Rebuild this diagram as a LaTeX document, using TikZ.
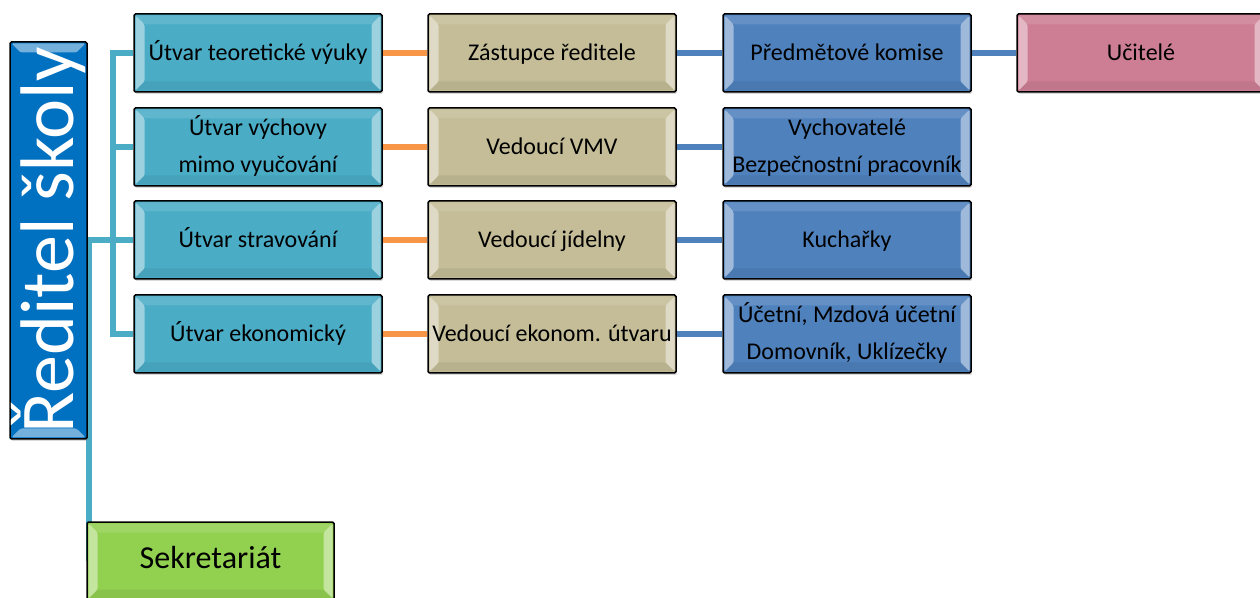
\documentclass[tikz,border=0pt]{standalone}
\usepackage{fontspec}
\setmainfont{Carlito}
\usetikzlibrary{shadows,backgrounds}
\definecolor{aquabox}{RGB}{75,172,198}
\definecolor{tanbox}{RGB}{196,189,151}
\definecolor{bluebox}{RGB}{79,129,189}
\definecolor{pinkbox}{RGB}{205,126,148}
\definecolor{greenbox}{RGB}{146,208,80}
\definecolor{dirbox}{RGB}{0,112,192}
\definecolor{orangeline}{RGB}{247,150,70}
\tikzset{
  bevel/.style={path picture={
    \fill[white,opacity=.45] ([shift={(1.5pt,-1.5pt)}]path picture bounding box.north west) -- ++(9pt,-9pt)
      -- ([shift={(10.5pt,10.5pt)}]path picture bounding box.south west) -- ++(-9pt,-9pt) -- cycle;
    \fill[white,opacity=.45] ([shift={(-1.5pt,-1.5pt)}]path picture bounding box.north east) -- ++(-9pt,-9pt)
      -- ([shift={(-10.5pt,10.5pt)}]path picture bounding box.south east) -- ++(9pt,-9pt) -- cycle;
    \fill[white,opacity=.12] ([shift={(1.5pt,-1.5pt)}]path picture bounding box.north west) -- ++(9pt,-9pt)
      -- ([shift={(-10.5pt,-10.5pt)}]path picture bounding box.north east) -- ++(9pt,9pt) -- cycle;
    \fill[black,opacity=.06] ([shift={(1.5pt,1.5pt)}]path picture bounding box.south west) -- ++(9pt,9pt)
      -- ([shift={(-10.5pt,10.5pt)}]path picture bounding box.south east) -- ++(9pt,-9pt) -- cycle;
  }},
  bevelv/.style={path picture={
    \fill[white,opacity=.45] ([shift={(1.5pt,-1.5pt)}]path picture bounding box.north west) -- ++(9pt,-9pt)
      -- ([shift={(-10.5pt,-10.5pt)}]path picture bounding box.north east) -- ++(9pt,9pt) -- cycle;
    \fill[white,opacity=.45] ([shift={(1.5pt,1.5pt)}]path picture bounding box.south west) -- ++(9pt,9pt)
      -- ([shift={(-10.5pt,10.5pt)}]path picture bounding box.south east) -- ++(9pt,-9pt) -- cycle;
  }},
  box/.style={draw=black, line width=1.5pt, rounded corners=1.5pt, minimum width=248pt,
    minimum height=78pt, inner sep=0pt, align=center, text=black,
    font=\fontsize{24}{37}\selectfont, bevel, execute at begin node=\strut,
    drop shadow={opacity=.3,shadow xshift=1pt,shadow yshift=-2pt}},
  aqualine/.style={draw=aquabox, line width=5.5pt},
  orangelink/.style={draw=orangeline, line width=5.5pt},
  bluelink/.style={draw=bluebox, line width=5.5pt}
}
\begin{document}
\begin{tikzpicture}[x=1pt,y=1pt]
\useasboundingbox (0,0) rectangle (1260,597);

%%Director
\node[box, bevelv, fill=dirbox, minimum width=77pt, minimum height=397pt] (dir) at (48.5,356.5) {};
\node[rotate=90, text=white, font=\fontsize{76}{80}\selectfont] (dirtext) at (dir.center) {Ředitel školy};

%%Departments
\node[box, fill=aquabox] (u1) at (258,544) {Útvar teoretické výuky};
\node[box, fill=aquabox] (u2) at (258,450) {\strut Útvar výchovy\\mimo vyučování};
\node[box, fill=aquabox] (u3) at (258,357) {Útvar stravování};
\node[box, fill=aquabox] (u4) at (258,263) {Útvar ekonomický};

%%Heads
\node[box, fill=tanbox] (v1) at (552,544) {Zástupce ředitele};
\node[box, fill=tanbox] (v2) at (552,450) {Vedoucí VMV};
\node[box, fill=tanbox] (v3) at (552,357) {Vedoucí jídelny};
\node[box, fill=tanbox] (v4) at (552,263) {Vedoucí ekonom. útvaru};

%%Staff
\node[box, fill=bluebox] (w1) at (847,544) {Předmětové komise};
\node[box, fill=bluebox] (w2) at (847,450) {\strut Vychovatelé\\Bezpečnostní pracovník};
\node[box, fill=bluebox] (w3) at (847,357) {Kuchařky};
\node[box, fill=bluebox] (w4) at (847,263) {\strut Účetní, Mzdová účetní\\Domovník, Uklízečky};
\node[box, fill=pinkbox] (t1) at (1141,544) {Učitelé};

%%Secretary
\node[box, fill=greenbox, minimum width=247pt, font=\fontsize{32}{38}\selectfont] (sek) at (210.5,36) {Sekretariát};

%%Connectors
\begin{scope}[on background layer]
\coordinate (hub) at (113,357);
\draw[aqualine] (dir.east |- hub) -- (u3.west);
\draw[aqualine] (hub) |- (u1.west);
\draw[aqualine] (hub) |- (u2.west);
\draw[aqualine] (hub) |- (u4.west);
\draw[aqualine] ([xshift=1pt]dir.east) -- ([xshift=1pt]dir.east |- sek.west);
\draw[orangelink] (u1.east) -- (v1.west);
\draw[orangelink] (u2.east) -- (v2.west);
\draw[orangelink] (u3.east) -- (v3.west);
\draw[orangelink] (u4.east) -- (v4.west);
\draw[bluelink] (v1.east) -- (w1.west);
\draw[bluelink] (v2.east) -- (w2.west);
\draw[bluelink] (v3.east) -- (w3.west);
\draw[bluelink] (v4.east) -- (w4.west);
\draw[bluelink] (w1.east) -- (t1.west);
\end{scope}
\end{tikzpicture}
\end{document}
